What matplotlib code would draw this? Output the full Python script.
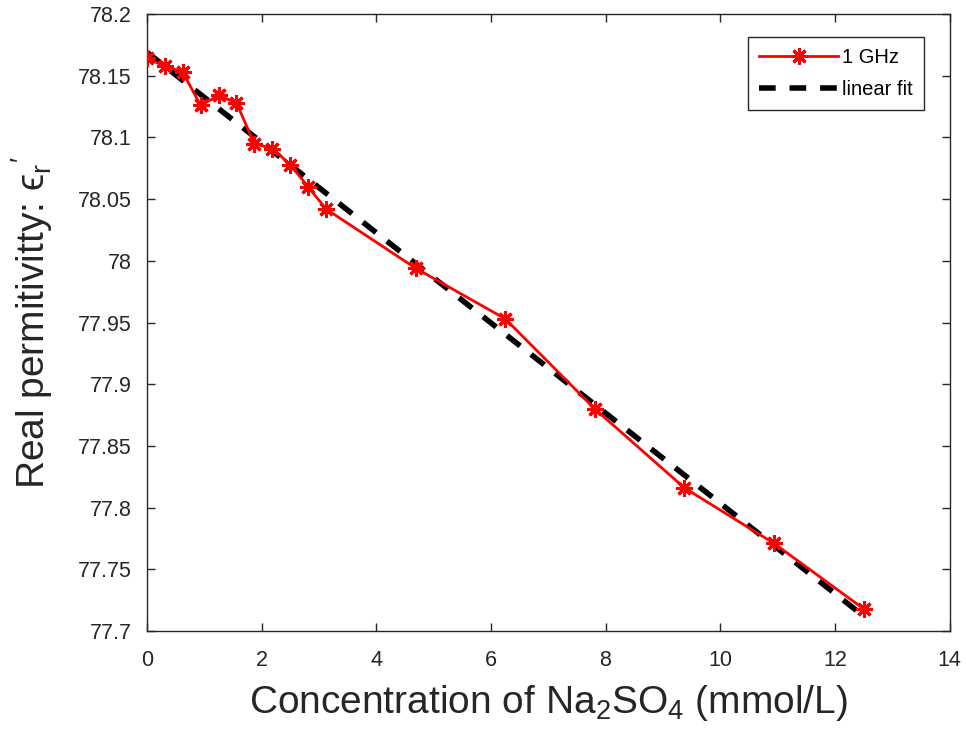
import numpy as np
import matplotlib
matplotlib.use("Agg")
import matplotlib.pyplot as plt

# concentration of Na2SO4 (mmol/L) and real permittivity at 1 GHz
conc = [0.0, 0.3125, 0.625, 0.9375, 1.25, 1.5625, 1.875, 2.1875, 2.5, 2.8125,
        3.125, 4.6875, 6.25, 7.8125, 9.375, 10.9375, 12.5]
eps_r = [78.164, 78.158, 78.153, 78.126, 78.134, 78.128, 78.095, 78.091, 78.078,
         78.060, 78.042, 77.994, 77.953, 77.880, 77.816, 77.771, 77.718]

x_ticks = [0, 2, 4, 6, 8, 10, 12, 14]
y_ticks = [77.7, 77.75, 77.8, 77.85, 77.9, 77.95, 78.0, 78.05, 78.1, 78.15, 78.2]
y_tick_labels = ["77.7", "77.75", "77.8", "77.85", "77.9", "77.95", "78",
                 "78.05", "78.1", "78.15", "78.2"]

plt.rcParams["font.family"] = ["Liberation Sans", "DejaVu Sans"]
plt.rcParams["mathtext.fontset"] = "custom"
plt.rcParams["mathtext.rm"] = "Liberation Sans"
plt.rcParams["mathtext.it"] = "Liberation Sans:italic"
plt.rcParams["mathtext.sf"] = "Liberation Sans"
plt.rcParams["mathtext.fallback"] = "stixsans"

fig = plt.figure(figsize=(9.66, 7.38), dpi=100)
ax = fig.add_axes([0.152, 0.145, 0.831, 0.836])

slope, intercept = np.polyfit(conc, eps_r, 1)
fit_x = np.array([conc[0], conc[-1]])
fit_y = slope * fit_x + intercept

ax.plot(conc, eps_r, color="red", linewidth=2, marker=(8, 2, 0),
        markersize=12, markeredgewidth=2.2, label="1 GHz", zorder=3)
ax.plot(fit_x, fit_y, color="black", linewidth=4, linestyle=(0, (3, 2.5)),
        label="linear fit", zorder=2)

ax.set_xlim(0, 14)
ax.set_ylim(77.7, 78.2)
ax.set_xticks(x_ticks)
ax.set_yticks(y_ticks)
ax.set_yticklabels(y_tick_labels)
ax.tick_params(direction="in", top=True, right=True, length=6, width=1,
               labelsize=15.5, colors="#262626")
ax.tick_params(axis="y", pad=11)
ax.tick_params(axis="x", pad=14)
for sp in ax.spines.values():
    sp.set_color("#262626")
    sp.set_linewidth(1)

ax.set_xlabel(r"Concentration of Na$_2$SO$_4$ (mmol/L)", fontsize=28,
              color="#262626", labelpad=8)
ax.set_ylabel("Real permitivitty: $\\mathrm{\u03f5_r}'$", fontsize=28,
              color="#262626", labelpad=16)

leg = ax.legend(loc="upper right", bbox_to_anchor=(0.968, 0.963), fontsize=14.5,
                fancybox=False, framealpha=1, edgecolor="#262626",
                handlelength=3.9, borderpad=0.55, handletextpad=0.2,
                labelspacing=0.65, borderaxespad=0)
leg.get_frame().set_linewidth(1)

fig.savefig("out.png", dpi=100)
